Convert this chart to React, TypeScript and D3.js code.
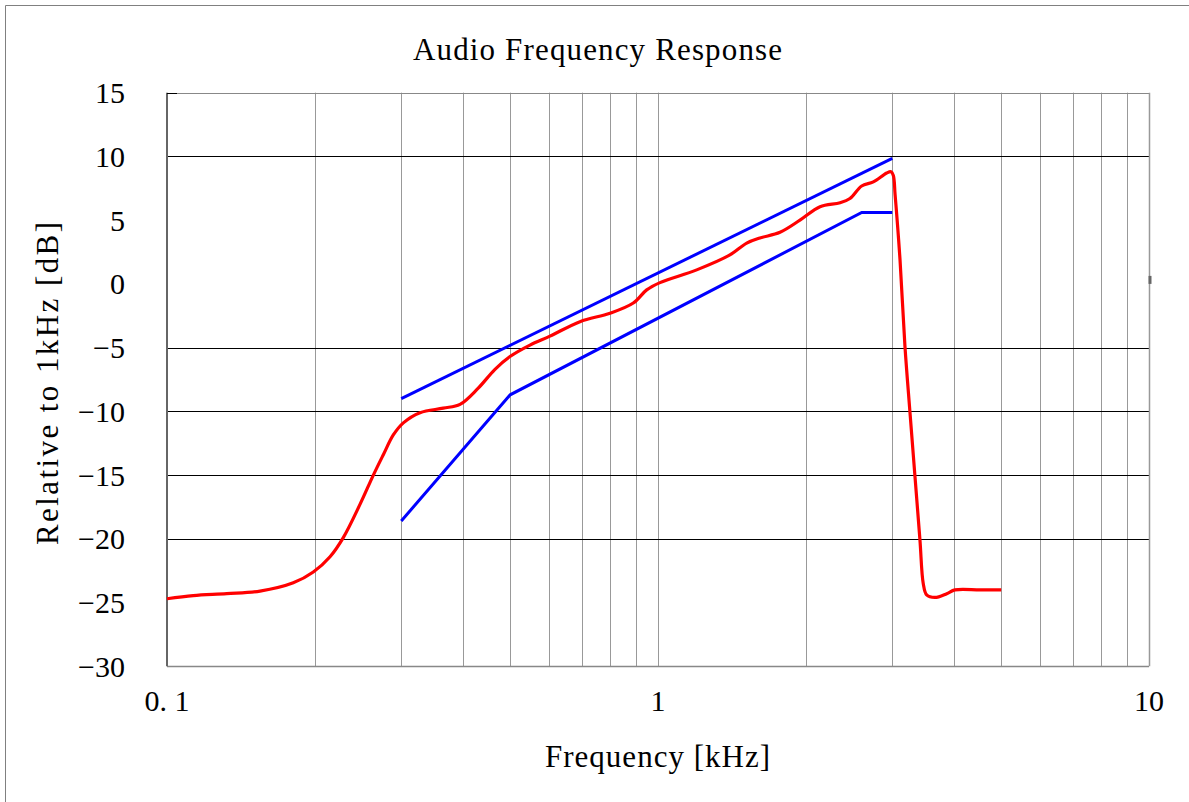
import React from 'react';
import * as d3 from 'd3';

// Measured response (kHz, dB rel. 1 kHz)
const redFreq = [0.1, 0.1131, 0.1323, 0.1547, 0.1808, 0.1986, 0.2148, 0.2286, 0.2472, 0.2632, 0.2758, 0.289, 0.3029, 0.3276, 0.3654, 0.3952, 0.4299, 0.4656, 0.4995, 0.5486, 0.6026, 0.6936, 0.7986, 0.8906, 0.9484, 1.0094, 1.199, 1.401, 1.516, 1.613, 1.772, 1.946, 2.138, 2.349, 2.46, 2.599, 2.745, 2.923, 2.982, 3.015, 3.04, 3.111, 3.184, 3.26, 3.337, 3.416, 3.469, 3.525, 3.666, 3.873, 4.026, 4.527, 5.0];
const redDb = [-24.7, -24.45, -24.3, -24.1, -23.45, -22.6, -21.4, -19.9, -17.3, -15.0, -13.4, -11.85, -10.9, -10.1, -9.75, -9.45, -8.2, -6.7, -5.7, -4.8, -4.1, -2.96, -2.3, -1.5, -0.47, 0.1, 1.1, 2.27, 3.2, 3.6, 4.05, 5.0, 6.06, 6.37, 6.7, 7.68, 8.0, 8.7, 8.8, 8.5, 7.0, 1.9, -4.9, -10.1, -15.1, -20.1, -23.5, -24.4, -24.6, -24.3, -24.0, -24.0, -24.0];

// Upper tolerance limit
const upperFreq = [0.3, 3];
const upperDb = [-9.0, 9.85];

// Lower tolerance limit
const lowerFreq = [0.3, 0.5, 2.6, 3];
const lowerDb = [-18.6, -8.7, 5.6, 5.6];

const yTickValues = [15, 10, 5, 0, -5, -10, -15, -20, -25, -30];
const yGridValues = [10, -5, -10, -15, -20];
const xTickValues = [0.1, 1, 10];
const xTickLabels = ['0. 1', '1', '10'];

const FONT = '"Liberation Serif", "DejaVu Serif", serif';

export default function App() {
  const W = 1189;
  const H = 802;
  const x = d3.scaleLog().domain([0.1, 10]).range([167, 1149]);
  const y = d3.scaleLinear().domain([-30, 15]).range([666.3, 92.7]);
  const px = (v: number) => Math.round(x(v)) + 0.5;
  const py = (v: number) => Math.round(y(v)) + 0.5;

  const line = d3
    .line<[number, number]>()
    .x((d) => x(d[0]))
    .y((d) => y(d[1]));
  const smooth = d3
    .line<[number, number]>()
    .x((d) => x(d[0]))
    .y((d) => y(d[1]))
    .curve(d3.curveCatmullRom.alpha(0.5));

  const red = redFreq.map((f, i) => [f, redDb[i]] as [number, number]);
  const upper = upperFreq.map((f, i) => [f, upperDb[i]] as [number, number]);
  const lower = lowerFreq.map((f, i) => [f, lowerDb[i]] as [number, number]);

  const vGrid = x.ticks().filter((t) => t > 0.1 + 1e-9 && t < 10 - 1e-9);
  const fmt = (v: number) => (v < 0 ? '\u2212' + Math.abs(v) : String(v));

  return (
    <svg
      width={W}
      height={H}
      style={{ position: 'absolute', left: 0, top: 0, display: 'block', background: '#fff' }}
      fontFamily={FONT}
    >
      <rect x={0} y={0} width={W} height={H} fill="#fff" />
      {/* outer chart border */}
      <line x1={5.5} y1={5.5} x2={W} y2={5.5} stroke="#808080" strokeWidth={1} />
      <line x1={5.5} y1={5.5} x2={5.5} y2={H} stroke="#808080" strokeWidth={1} />

      {/* title */}
      <text x={413} y={60} fontSize={31} textLength={369} lengthAdjust="spacing" fill="#000">
        Audio Frequency Response
      </text>

      {/* vertical gridlines */}
      {vGrid.map((t) => (
        <line key={'v' + t} x1={px(t)} x2={px(t)} y1={y(15)} y2={y(-30)} stroke="#999" strokeWidth={1} />
      ))}
      {/* horizontal gridlines */}
      {yGridValues.map((v) => (
        <line key={'h' + v} x1={x(0.1)} x2={x(10)} y1={py(v)} y2={py(v)} stroke="#000" strokeWidth={1} />
      ))}
      {/* frame */}
      <line x1={x(0.1)} x2={x(10)} y1={py(15)} y2={py(15)} stroke="#888" strokeWidth={1} />
      <line x1={x(0.1)} x2={x(10)} y1={py(-30)} y2={py(-30)} stroke="#888" strokeWidth={1.5} />
      <line x1={px(10)} x2={px(10)} y1={y(15)} y2={y(-30)} stroke="#999" strokeWidth={1.5} />
      <line x1={x(0.1)} x2={x(0.1)} y1={y(15)} y2={y(-30)} stroke="#666" strokeWidth={2} />
      <line x1={x(0.1)} x2={x(0.1) + 10} y1={py(15)} y2={py(15)} stroke="#000" strokeWidth={1} />
      <line x1={px(10) + 0.5} x2={px(10) + 0.5} y1={y(0) - 8} y2={y(0)} stroke="#666" strokeWidth={3} />

      {/* y tick labels */}
      {yTickValues.map((v) => (
        <text key={'yt' + v} x={125} y={y(v)} dy="0.35em" fontSize={30} textAnchor="end" fill="#000">
          {fmt(v)}
        </text>
      ))}
      {/* x tick labels */}
      {xTickValues.map((v, i) => (
        <text key={'xt' + v} x={x(v)} y={711} fontSize={30} textAnchor="middle" fill="#000">
          {xTickLabels[i]}
        </text>
      ))}

      {/* axis titles */}
      <text x={545} y={767} fontSize={31} textLength={225} lengthAdjust="spacing" fill="#000">
        Frequency [kHz]
      </text>
      <text
        transform="translate(58,383.5) rotate(-90)"
        x={-161.5}
        y={0}
        fontSize={31}
        textLength={323}
        lengthAdjust="spacing"
        fill="#000"
      >
        Relative to 1kHz [dB]
      </text>

      {/* limit lines */}
      <path d={line(upper) || ''} fill="none" stroke="#0000ff" strokeWidth={3} />
      <path d={line(lower) || ''} fill="none" stroke="#0000ff" strokeWidth={3} />
      {/* measured response */}
      <path d={smooth(red) || ''} fill="none" stroke="#ff0000" strokeWidth={3.2} strokeLinejoin="round" />
    </svg>
  );
}
